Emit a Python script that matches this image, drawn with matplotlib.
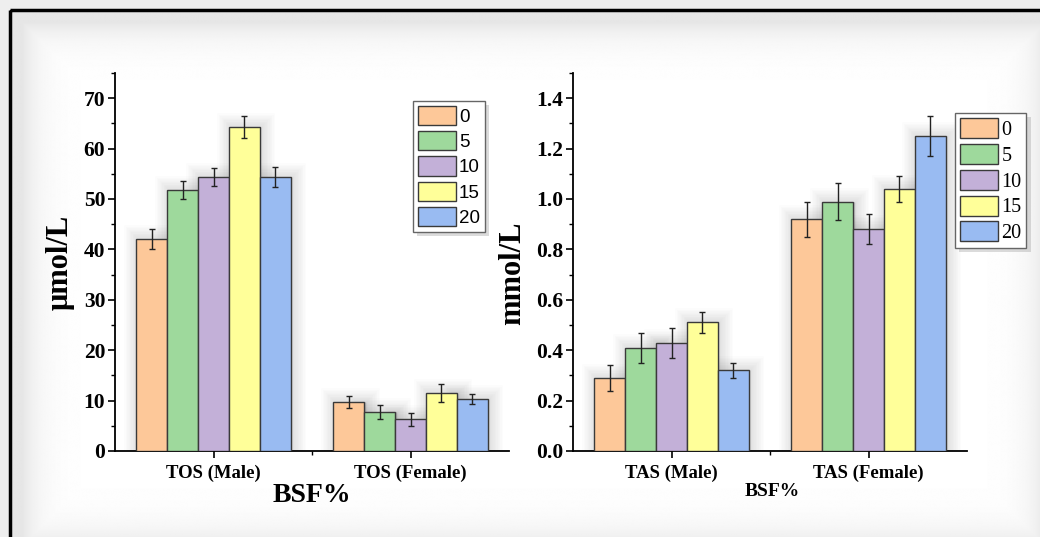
import numpy as np
import matplotlib
matplotlib.use("Agg")
import matplotlib.pyplot as plt
import matplotlib.patheffects as pe
from matplotlib.patches import Rectangle, Patch
from matplotlib.ticker import MultipleLocator, FormatStrFormatter

# data
groups_tos = ["TOS (Male)", "TOS (Female)"]
groups_tas = ["TAS (Male)", "TAS (Female)"]
bsf = ["0", "5", "10", "15", "20"]

tos_male = [42.0, 51.8, 54.4, 64.3, 54.4]
tos_male_err = [2.0, 1.8, 1.8, 2.2, 2.0]
tos_female = [9.8, 7.7, 6.3, 11.5, 10.4]
tos_female_err = [1.2, 1.4, 1.3, 1.8, 1.0]

tas_male = [0.29, 0.41, 0.43, 0.51, 0.32]
tas_male_err = [0.05, 0.06, 0.06, 0.04, 0.03]
tas_female = [0.92, 0.99, 0.88, 1.04, 1.25]
tas_female_err = [0.07, 0.075, 0.06, 0.05, 0.08]

colors = ["#FDC899", "#9ED99C", "#C3B0D8", "#FFFF99", "#99BBF2"]

W, H = 1040, 537
fig = plt.figure(figsize=(W / 100, H / 100), dpi=100)
fig.patch.set_facecolor("#eeeeee")

# background: framed panel, greyish near the frame and white inside
bg = fig.add_axes([0, 0, 1, 1], zorder=-10)
bg.set_xlim(0, W)
bg.set_ylim(H, 0)
bg.axis("off")
yy, xx = np.mgrid[0:H, 0:W]
d = np.minimum.reduce([xx - 11, yy - 11, 1045 - xx, 545 - yy]).astype(float)
shade = 1 - 0.10 * np.exp(-np.clip(d, 0, None) / 18.0)
bg.imshow(shade, cmap="gray", vmin=0, vmax=1, extent=(11, W, H, 11), aspect="auto")
bg.add_patch(Rectangle((9.5, 9.5), 1100, 600, facecolor="none", edgecolor="black", linewidth=2.5))

serif = "Liberation Serif"
bw = 0.157
glow = [pe.Stroke(linewidth=w, foreground="black", alpha=0.012) for w in range(2, 22, 2)]


def draw(ax, male, male_err, female, female_err, labels):
    x = np.arange(2)
    for i in range(5):
        vals = [male[i], female[i]]
        ax.bar(x + (i - 2) * bw + 0.008, vals, bw, color="#000000", alpha=0.03,
               linewidth=0, zorder=1, path_effects=glow)
    for i in range(5):
        vals = [male[i], female[i]]
        errs = [male_err[i], female_err[i]]
        ax.bar(x + (i - 2) * bw, vals, bw, color=colors[i], edgecolor="#3a3a3a",
               linewidth=1.0, yerr=errs, capsize=2.5,
               error_kw=dict(ecolor="#222222", elinewidth=1.0, capthick=1.0, zorder=4), zorder=3)
    ax.set_xlim(-0.5, 1.5)
    ax.set_xticks(x)
    ax.set_xticklabels(labels, fontfamily=serif, fontweight="bold", fontsize=13.5)
    ax.set_xticks([0.5], minor=True)
    for s in ["top", "right"]:
        ax.spines[s].set_visible(False)
    for s in ["left", "bottom"]:
        ax.spines[s].set_linewidth(1.3)
    ax.tick_params(axis="both", which="major", direction="out", length=5, width=1.2)
    ax.tick_params(axis="both", which="minor", direction="out", length=3, width=1.0)
    ax.tick_params(axis="x", pad=5)
    ax.tick_params(axis="y", pad=2)
    for t in ax.get_yticklabels():
        t.set_fontfamily(serif)
        t.set_fontweight("bold")
        t.set_fontsize(15.5)
    ax.set_facecolor("none")


ax1 = fig.add_axes([115 / W, 1 - 451 / H, 394 / W, 378 / H])
ax1.set_ylim(0, 75)
ax1.yaxis.set_major_locator(MultipleLocator(10))
ax1.yaxis.set_minor_locator(MultipleLocator(5))
draw(ax1, tos_male, tos_male_err, tos_female, tos_female_err, groups_tos)
ax1.set_ylabel("μmol/L", fontfamily=serif, fontweight="bold", fontsize=22)
ax1.yaxis.set_label_coords(-0.103, 0.50)
ax1.set_xlabel("BSF%", fontfamily=serif, fontweight="bold", fontsize=20)
ax1.xaxis.set_label_coords(0.50, -0.085)

ax2 = fig.add_axes([573 / W, 1 - 451 / H, 394 / W, 378 / H])
ax2.set_ylim(0, 1.5)
ax2.yaxis.set_major_locator(MultipleLocator(0.2))
ax2.yaxis.set_minor_locator(MultipleLocator(0.1))
ax2.yaxis.set_major_formatter(FormatStrFormatter("%.1f"))
draw(ax2, tas_male, tas_male_err, tas_female, tas_female_err, groups_tas)
ax2.set_ylabel("mmol/L", fontfamily=serif, fontweight="bold", fontsize=22)
ax2.yaxis.set_label_coords(-0.117, 0.47)
ax2.set_xlabel("BSF%", fontfamily=serif, fontweight="bold", fontsize=14)
ax2.xaxis.set_label_coords(0.505, -0.085)

handles = [Patch(facecolor=c, edgecolor="#3a3a3a", linewidth=1.0) for c in colors]
leg_glow = [pe.withSimplePatchShadow(offset=(3, -3), shadow_rgbFace="#999999", alpha=0.35)]
leg1 = fig.legend(handles, bsf, loc="upper left", bbox_to_anchor=(413 / W, 1 - 101 / H),
                  prop={"family": "Liberation Sans", "size": 13.5}, frameon=True, fancybox=False,
                  edgecolor="#666666", framealpha=1, handlelength=2.05, handleheight=1.22,
                  labelspacing=0.28, handletextpad=0.15, borderpad=0.25, borderaxespad=0)
leg1.get_frame().set_path_effects(leg_glow)
leg2 = fig.legend(handles, bsf, loc="upper left", bbox_to_anchor=(955 / W, 1 - 113 / H),
                  prop={"family": serif, "size": 14.5}, frameon=True, fancybox=False,
                  edgecolor="#666666", framealpha=1, handlelength=1.9, handleheight=1.15,
                  labelspacing=0.2, handletextpad=0.15, borderpad=0.25, borderaxespad=0)
leg2.get_frame().set_path_effects(leg_glow)

fig.savefig("out.png", dpi=100, facecolor=fig.get_facecolor())
